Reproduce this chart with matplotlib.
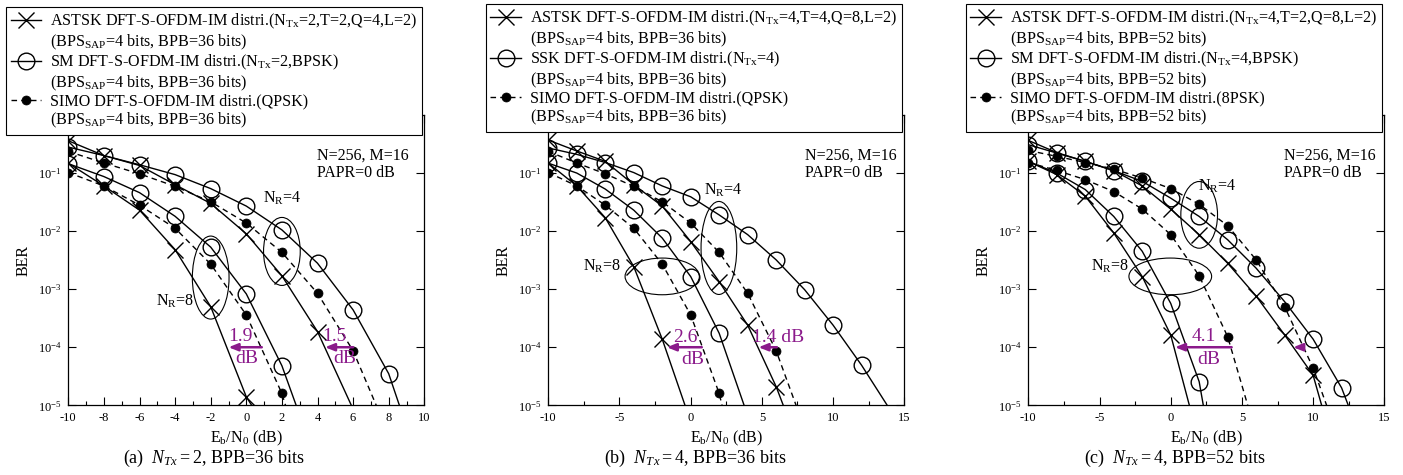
import matplotlib
matplotlib.use('Agg')
import matplotlib.pyplot as plt
import matplotlib.transforms as mtransforms
from matplotlib.patches import Ellipse
from matplotlib.lines import Line2D
from matplotlib.ticker import MultipleLocator, FixedLocator, NullLocator, LogFormatterMathtext

plt.rcParams.update({
    'font.family': 'Liberation Serif',
    'mathtext.fontset': 'custom',
    'mathtext.rm': 'Liberation Serif',
    'mathtext.it': 'Liberation Serif:italic',
    'mathtext.bf': 'Liberation Serif:bold',
    'axes.unicode_minus': False,
})

PURPLE = '#8b1a8b'

# ---- (a) N_Tx = 2, BPB = 36 bits ----
snr_a = [-10, -8, -6, -4, -2, 0, 2, 4, 6, 8]
a_astsk4 = [0.36, 0.20, 0.135, 0.063, 0.030, 0.0090, 1.7e-3, 1.86e-4]
a_sm4 = [0.28, 0.20, 0.139, 0.094, 0.054, 0.027, 0.0105, 2.8e-3, 4.4e-4, 3.5e-5]
a_simo4 = [0.236, 0.149, 0.097, 0.059, 0.032, 0.0138, 0.0043, 8.5e-4, 8.7e-5]
a_astsk8 = [0.148, 0.060, 0.023, 0.0048, 5.0e-4, 1.4e-5]
a_sm8 = [0.145, 0.087, 0.046, 0.018, 0.0053, 8.3e-4, 4.8e-5]
a_simo8 = [0.102, 0.060, 0.028, 0.0112, 0.0027, 3.6e-4, 1.6e-5]
a_ends = [5.9, 8.6, 7.3, 0.3, 2.8, 2.2]   # Eb/N0 where each line leaves the plot at 1e-5

# ---- (b) N_Tx = 4, BPB = 36 bits ----
snr_b = [-10, -8, -6, -4, -2, 0, 2, 4, 6, 8, 10, 12]
b_astsk4 = [0.37, 0.24, 0.159, 0.063, 0.027, 0.0066, 1.35e-3, 2.4e-4, 2.1e-5]
b_ssk4 = [0.27, 0.21, 0.152, 0.102, 0.060, 0.039, 0.019, 8.7e-3, 3.2e-3, 9.8e-4, 2.4e-4, 4.9e-5]
b_simo4 = [0.236, 0.149, 0.097, 0.059, 0.032, 0.0138, 0.0043, 8.5e-4, 8.7e-5]
b_astsk8 = [0.148, 0.060, 0.017, 2.45e-3, 1.38e-4]
b_ssk8 = [0.148, 0.10, 0.053, 0.023, 0.0076, 1.65e-3, 1.74e-4]
b_simo8 = [0.102, 0.060, 0.028, 0.0112, 0.0027, 3.6e-4, 1.6e-5]
b_ends = [6.5, 13.8, 7.4, -0.4, 3.75, 2.2]

# ---- (c) N_Tx = 4, BPB = 52 bits ----
snr_c = [-10, -8, -6, -4, -2, 0, 2, 4, 6, 8, 10, 12]
c_astsk4 = [0.365, 0.225, 0.159, 0.11, 0.060, 0.024, 0.0087, 2.8e-3, 7.6e-4, 1.63e-4, 3.3e-5]
c_sm4 = [0.308, 0.221, 0.159, 0.11, 0.072, 0.037, 0.0179, 0.0071, 0.0023, 6.1e-4, 1.38e-4, 2.0e-5]
c_simo4 = [0.245, 0.194, 0.152, 0.117, 0.082, 0.054, 0.029, 0.0124, 0.0032, 5.0e-4, 4.4e-5]
c_astsk8 = [0.159, 0.094, 0.040, 0.0093, 1.65e-3, 1.63e-4]
c_sm8 = [0.159, 0.10, 0.052, 0.0179, 0.0045, 5.7e-4, 2.55e-5]
c_simo8 = [0.152, 0.111, 0.077, 0.048, 0.024, 0.0087, 1.7e-3, 1.52e-4]
c_ends = [10.6, 12.47, 10.95, 1.31, 2.29, 5.41]

labels_a = ['ASTSK DFT-S-OFDM-IM distri.(N$_{\\mathrm{Tx}}$=2,T=2,Q=4,L=2)',
            'SM DFT-S-OFDM-IM distri.(N$_{\\mathrm{Tx}}$=2,BPSK)',
            'SIMO DFT-S-OFDM-IM distri.(QPSK)']
labels_b = ['ASTSK DFT-S-OFDM-IM distri.(N$_{\\mathrm{Tx}}$=4,T=4,Q=8,L=2)',
            'SSK DFT-S-OFDM-IM distri.(N$_{\\mathrm{Tx}}$=4)',
            'SIMO DFT-S-OFDM-IM distri.(QPSK)']
labels_c = ['ASTSK DFT-S-OFDM-IM distri.(N$_{\\mathrm{Tx}}$=4,T=2,Q=8,L=2)',
            'SM DFT-S-OFDM-IM distri.(N$_{\\mathrm{Tx}}$=4,BPSK)',
            'SIMO DFT-S-OFDM-IM distri.(8PSK)']
bpb = [36, 36, 52]
captions = ['(a)  $N_{Tx}=2$, BPB=36 bits', '(b)  $N_{Tx}=4$, BPB=36 bits',
            '(c)  $N_{Tx}=4$, BPB=52 bits']
ber_ticks = [1e-5, 1e-4, 1e-3, 1e-2, 1e-1]

# marker style per curve kind: ASTSK, SM/SSK, SIMO
kinds = [dict(marker='x', ms=12, mew=1.0, ls='-'),
         dict(marker='o', ms=12, mew=1.0, mfc='none', ls='-'),
         dict(marker='o', ms=6.5, mew=0.5, ls=(0, (4, 3)))]

fig = plt.figure(figsize=(14.03, 4.75), dpi=100)
W, H = 1403, 475
lefts = [68.3, 548.3, 1028.3]
axes = [fig.add_axes([l / W, 1 - 405.3 / H, 356 / W, 290.3 / H]) for l in lefts]


def ring(ax, x, y, w, h):
    tr = fig.dpi_scale_trans + mtransforms.ScaledTranslation(x, y, ax.transData)
    ax.add_patch(Ellipse((0, 0), w / 100, h / 100, transform=tr, fill=False,
                         ec='black', lw=0.8, zorder=4))


def gap_arrow(ax, x0, x1):
    ax.annotate('', xy=(x1, 1e-4), xytext=(x0, 1e-4),
                arrowprops=dict(arrowstyle='-|>,head_length=0.55,head_width=0.22',
                                color=PURPLE, lw=1.8, shrinkA=0, shrinkB=0))


panels = [
    (snr_a, [a_astsk4, a_sm4, a_simo4, a_astsk8, a_sm8, a_simo8], a_ends, 10, 2, 1),
    (snr_b, [b_astsk4, b_ssk4, b_simo4, b_astsk8, b_ssk8, b_simo8], b_ends, 15, 5, 2.5),
    (snr_c, [c_astsk4, c_sm4, c_simo4, c_astsk8, c_sm8, c_simo8], c_ends, 15, 5, 2.5),
]

for i, (ax, (snr, curves, ends, xmax, major, minor)) in enumerate(zip(axes, panels)):
    for j, (ber, xend) in enumerate(zip(curves, ends)):
        st = kinds[j % 3]
        xs = snr[:len(ber)]
        ax.plot(xs + [xend], ber + [1e-5], color='black', lw=1.0, ls=st['ls'])
        ax.plot(xs, ber, color='black', ls='none', marker=st['marker'], ms=st['ms'],
                mew=st['mew'], mfc=st.get('mfc', 'black'))
    ax.set_yscale('log')
    ax.set_xlim(-10, xmax)
    ax.set_ylim(1e-5, 1)
    ax.xaxis.set_major_locator(MultipleLocator(major))
    ax.xaxis.set_minor_locator(MultipleLocator(minor))
    ax.yaxis.set_major_locator(FixedLocator(ber_ticks))
    ax.yaxis.set_major_formatter(LogFormatterMathtext())
    ax.yaxis.set_minor_locator(NullLocator())
    ax.tick_params(which='both', direction='in', top=True, right=True, labelsize=9, pad=5)
    ax.tick_params(which='major', length=6, width=0.8)
    ax.tick_params(which='minor', length=3, width=0.8)
    ax.set_xlabel('E$_{\\mathrm{b}}$/N$_{\\mathrm{0}}$ (dB)', fontsize=11.5, labelpad=3)
    ax.set_ylabel('BER', fontsize=11.5, labelpad=4)
    for s in ax.spines.values():
        s.set_linewidth(0.9)

    ax.text([0.698, 0.72, 0.719][i], 0.83, 'N=256, M=16\nPAPR=0 dB', transform=ax.transAxes,
            fontsize=11.5, va='center', ha='left', linespacing=1.05)

    # legend: each entry takes two rows, the handle sits on the first row
    labels = [labels_a, labels_b, labels_c][i]
    sub = '(BPS$_{\\mathrm{SAP}}$=4 bits, BPB=%d bits)' % bpb[i]
    handles, texts = [], []
    for j in range(3):
        st = kinds[j]
        handles.append(Line2D([], [], color='black', lw=1.0, ls=st['ls'], marker=st['marker'],
                              ms=st['ms'], mew=st['mew'], mfc=st.get('mfc', 'black')))
        texts.append(labels[j])
        handles.append(Line2D([], [], ls='none'))
        texts.append(sub)
    right = [422, 901.7, 1381.7][i]
    top = [7, 4, 4][i]
    leg = ax.legend(handles, texts, loc='upper right', bbox_to_anchor=(right / W, 1 - top / H),
                    bbox_transform=fig.transFigure, fontsize=11.6, handlelength=1.9,
                    handletextpad=0.55, borderpad=0.3, labelspacing=0.08, borderaxespad=0,
                    fancybox=False, framealpha=1, edgecolor='black')
    leg.get_frame().set_linewidth(0.8)

    fig.text([214, 695, 1175][i] / W, 1 - 458 / H, captions[i], ha='center', va='center',
             fontsize=13)

# N_R groupings
ax = axes[0]
ring(ax, 2.0, 10 ** -2.35, 36.7, 68)
ring(ax, -2.0, 10 ** -2.80, 36.7, 83)
ax.text(2.0, 10 ** -1.44, 'N$_{\\mathrm{R}}$=4', ha='center', va='center', fontsize=11.5)
ax.text(-4.0, 10 ** -3.21, 'N$_{\\mathrm{R}}$=8', ha='center', va='center', fontsize=11.5)
ax = axes[1]
ring(ax, 1.98, 10 ** -2.29, 35.7, 93)
ring(ax, -2.0, 10 ** -2.78, 74.3, 36.7)
ax.text(2.26, 10 ** -1.29, 'N$_{\\mathrm{R}}$=4', ha='center', va='center', fontsize=11.5)
ax.text(-6.25, 10 ** -2.60, 'N$_{\\mathrm{R}}$=8', ha='center', va='center', fontsize=11.5)
ax = axes[2]
ring(ax, 2.0, 10 ** -1.72, 36.7, 66.7)
ring(ax, -0.03, 10 ** -2.78, 82.7, 36.7)
ax.text(3.23, 10 ** -1.22, 'N$_{\\mathrm{R}}$=4', ha='center', va='center', fontsize=11.5)
ax.text(-4.26, 10 ** -2.61, 'N$_{\\mathrm{R}}$=8', ha='center', va='center', fontsize=11.5)

# SNR gaps
gap_arrow(axes[0], 0.87, -1.0)
axes[0].text(-0.31, 10 ** -3.82, '1.9', color=PURPLE, fontsize=14, ha='center', va='center')
axes[0].text(0.02, 10 ** -4.2, 'dB', color=PURPLE, fontsize=14, ha='center', va='center')
gap_arrow(axes[0], 6.0, 4.42)
axes[0].text(4.93, 10 ** -3.82, '1.5', color=PURPLE, fontsize=14, ha='center', va='center')
axes[0].text(5.55, 10 ** -4.2, 'dB', color=PURPLE, fontsize=14, ha='center', va='center')

gap_arrow(axes[1], 0.78, -1.68)
axes[1].text(-0.39, 10 ** -3.83, '2.6', color=PURPLE, fontsize=14, ha='center', va='center')
axes[1].text(0.17, 10 ** -4.21, 'dB', color=PURPLE, fontsize=14, ha='center', va='center')
gap_arrow(axes[1], 6.05, 4.76)
axes[1].text(6.16, 10 ** -3.83, '1.4 dB', color=PURPLE, fontsize=14, ha='center', va='center')

gap_arrow(axes[2], 4.28, 0.3)
axes[2].text(2.32, 10 ** -3.82, '4.1', color=PURPLE, fontsize=14, ha='center', va='center')
axes[2].text(2.70, 10 ** -4.21, 'dB', color=PURPLE, fontsize=14, ha='center', va='center')
gap_arrow(axes[2], 9.3, 8.6)

fig.savefig('out.png', dpi=100)
